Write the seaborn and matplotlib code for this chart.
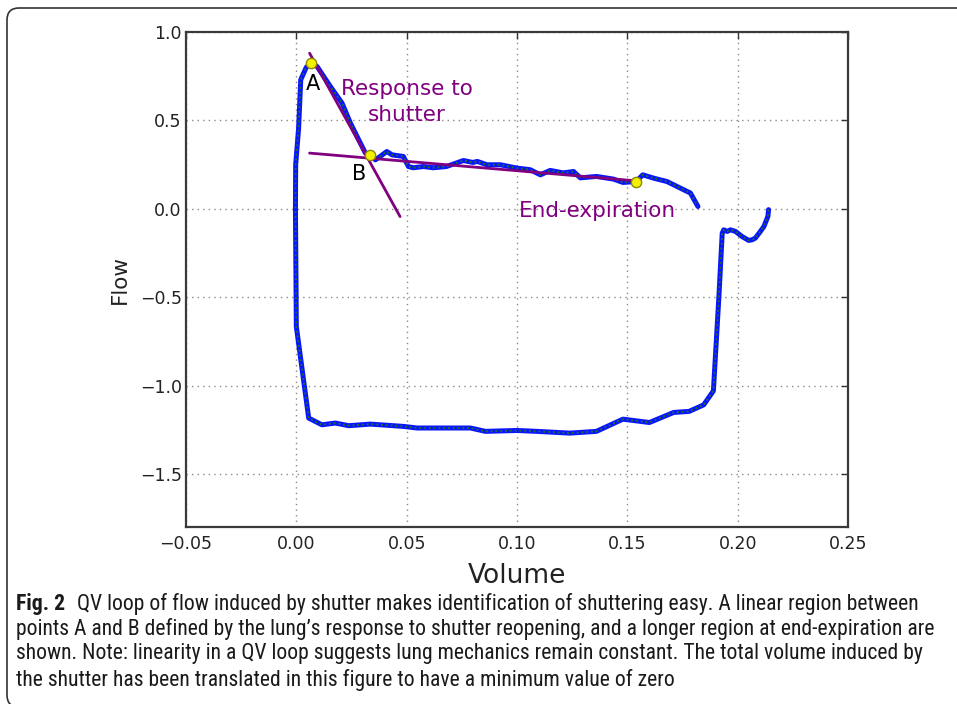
import matplotlib
matplotlib.use("Agg")
import matplotlib.pyplot as plt
import numpy as np
import pandas as pd
import seaborn as sns
from matplotlib import font_manager
from matplotlib.patches import FancyBboxPatch
from matplotlib.transforms import IdentityTransform

# ---------------- data ----------------
volume = [0.2140, 0.2137, 0.2119, 0.2103, 0.2080, 0.2066, 0.2050, 0.2020, 0.1990,
          0.1967, 0.1953, 0.1937, 0.1930, 0.1915, 0.1890, 0.1846, 0.1780, 0.1710,
          0.1600, 0.1480, 0.1360, 0.1240, 0.1090, 0.1000, 0.0857, 0.0789, 0.0547,
          0.0486, 0.0335, 0.0237, 0.0177, 0.0116, 0.0056, 0.0000, -0.0004, -0.0003,
          0.0010, 0.0020, 0.0045, 0.0067, 0.0094, 0.0154, 0.0207, 0.0245, 0.0290,
          0.0313, 0.0332, 0.0358, 0.0380, 0.0410, 0.0434, 0.0485, 0.0508, 0.0530,
          0.0576, 0.0620, 0.0680, 0.0757, 0.0800, 0.0820, 0.0864, 0.0925, 0.1000,
          0.1060, 0.1106, 0.1150, 0.1210, 0.1256, 0.1287, 0.1360, 0.1437, 0.1480,
          0.1540, 0.1570, 0.1620, 0.1680, 0.1740, 0.1786, 0.1820]
flow = [-0.005, -0.043, -0.100, -0.128, -0.166, -0.175, -0.179, -0.157, -0.128,
        -0.119, -0.128, -0.119, -0.138, -0.496, -1.030, -1.109, -1.146, -1.152,
        -1.209, -1.190, -1.259, -1.269, -1.259, -1.254, -1.259, -1.240, -1.240,
        -1.231, -1.218, -1.227, -1.212, -1.222, -1.184, -0.666, 0.000, 0.250,
        0.450, 0.730, 0.800, 0.824, 0.805, 0.692, 0.598, 0.485, 0.372,
        0.315, 0.305, 0.277, 0.296, 0.324, 0.305, 0.296, 0.239, 0.232,
        0.239, 0.232, 0.239, 0.273, 0.262, 0.268, 0.249, 0.249, 0.230,
        0.221, 0.192, 0.217, 0.203, 0.211, 0.175, 0.183, 0.168, 0.149,
        0.154, 0.192, 0.173, 0.154, 0.117, 0.089, 0.013]

marker_volume = [0.0067, 0.0332, 0.1540]
marker_flow = [0.824, 0.305, 0.154]
fit_response_volume = [0.006, 0.047]
fit_response_flow = [0.880, -0.044]
fit_end_volume = [0.006, 0.154]
fit_end_flow = [0.315, 0.158]

x_ticks = [-0.05, 0.00, 0.05, 0.10, 0.15, 0.20, 0.25]
y_ticks = [-1.5, -1.0, -0.5, 0.0, 0.5, 1.0]

caption_bold = "Fig. 2"
caption_lines = [
    "QV loop of flow induced by shutter makes identification of shuttering easy. A linear region between",
    "points A and B defined by the lung\u2019s response to shutter reopening, and a longer region at end-expiration are",
    "shown. Note: linearity in a QV loop suggests lung mechanics remain constant. The total volume induced by",
    "the shutter has been translated in this figure to have a minimum value of zero",
]

# ---------------- style ----------------
sns.set_style("white")
plt.rcParams["font.family"] = ["DejaVu Sans"]
names = {f.name for f in font_manager.fontManager.ttflist}
cap_font = "DejaVu Sans"
for cand in ["Liberation Sans Narrow", "Roboto Condensed", "Open Sans Condensed", "Noto Sans", "Liberation Sans"]:
    if cand in names:
        cap_font = cand
        break

W, H = 957, 704
fig = plt.figure(figsize=(W / 100, H / 100), dpi=100)
fig.patch.set_facecolor("white")
ax = fig.add_axes([186 / W, 1 - 527 / H, (848 - 186) / W, (527 - 32) / H])

df = pd.DataFrame({"Volume": volume, "Flow": flow})
sns.lineplot(data=df, x="Volume", y="Flow", sort=False, estimator=None,
             color="#0a14ff", lw=3.6, ax=ax, zorder=3)
sns.lineplot(data=df, x="Volume", y="Flow", sort=False, estimator=None,
             color="#1a7a1a", lw=1.3, linestyle=":", ax=ax, zorder=4)

sns.lineplot(x=fit_response_volume, y=fit_response_flow, sort=False, estimator=None,
             color="#800080", lw=2, ax=ax, zorder=5)
sns.lineplot(x=fit_end_volume, y=fit_end_flow, sort=False, estimator=None,
             color="#800080", lw=2, ax=ax, zorder=5)
sns.scatterplot(x=marker_volume, y=marker_flow, s=55, color="#f5f000",
                edgecolor="#8a8a00", linewidth=1, ax=ax, zorder=6)

ax.text(0.0075, 0.673, "A", fontsize=15, color="black", ha="center", va="baseline", zorder=7)
ax.text(0.0285, 0.164, "B", fontsize=15, color="black", ha="center", va="baseline", zorder=7)
ax.text(0.050, 0.645, "Response to", fontsize=15.5, color="#800080", ha="center", va="baseline", zorder=7)
ax.text(0.050, 0.497, "shutter", fontsize=15.5, color="#800080", ha="center", va="baseline", zorder=7)
ax.text(0.1366, -0.045, "End-expiration", fontsize=15.5, color="#800080", ha="center", va="baseline", zorder=7)

ax.set_xlim(-0.05, 0.25)
ax.set_ylim(-1.8, 1.0)
ax.set_xticks(x_ticks)
ax.set_yticks(y_ticks)
ax.grid(True, color="#8a8a8a", linestyle=(0, (1, 3)), lw=1)
ax.set_axisbelow(True)
ax.tick_params(direction="in", length=5, width=1, top=True, right=True,
               labelsize=12.5, colors="#333333", labelcolor="#222222")
ax.tick_params(axis="x", pad=5.5)
ax.tick_params(axis="y", pad=3)
for s in ax.spines.values():
    s.set_color("#3a3a3a")
    s.set_linewidth(1.6)
ax.set_xlabel("")
ax.set_ylabel("Flow", fontsize=15.5, labelpad=7, color="#222222")

# x label
fig.text(517 / W, 1 - 576 / H, "Volume", fontsize=19, ha="center", va="center", color="#222222")

# caption with auto-fit font size
renderer = fig.canvas.get_renderer()
x_start = 16
bold_probe = fig.text(0, 0, caption_bold + "  ", fontsize=10, family=cap_font, fontweight="bold")
bold_w10 = bold_probe.get_window_extent(renderer).width
bold_probe.remove()
targets = [906, 940, 915]
scales = []
for i, (line, tgt) in enumerate(zip(caption_lines[:3], targets)):
    probe = fig.text(0, 0, line, fontsize=10, family=cap_font)
    wpx = probe.get_window_extent(renderer).width
    probe.remove()
    if i == 0:
        wpx += bold_w10
    scales.append((tgt - x_start) / wpx)
cap_size = 10 * float(np.mean(scales))

x0 = x_start / W
ys = [604, 629, 654, 680]
bold = fig.text(x0, 1 - ys[0] / H, caption_bold, fontsize=cap_size, family=cap_font,
                fontweight="bold", ha="left", va="center", color="#1a1a1a")
bw = bold.get_window_extent(renderer).width
fig.text(x0 + (bw + 0.55 * cap_size * 100 / 72) / W, 1 - ys[0] / H, caption_lines[0],
         fontsize=cap_size, family=cap_font, ha="left", va="center", color="#1a1a1a")
for line, y in zip(caption_lines[1:], ys[1:]):
    fig.text(x0, 1 - y / H, line, fontsize=cap_size, family=cap_font,
             ha="left", va="center", color="#1a1a1a")

# rounded frame of the figure panel (partly cropped)
frame = FancyBboxPatch((7, -3), 1100, H - 8 + 3, boxstyle="round,pad=0,rounding_size=12",
                       transform=IdentityTransform(), fill=False, edgecolor="#333333", lw=1.2)
fig.add_artist(frame)

fig.savefig("out.png", dpi=100, facecolor="white")
